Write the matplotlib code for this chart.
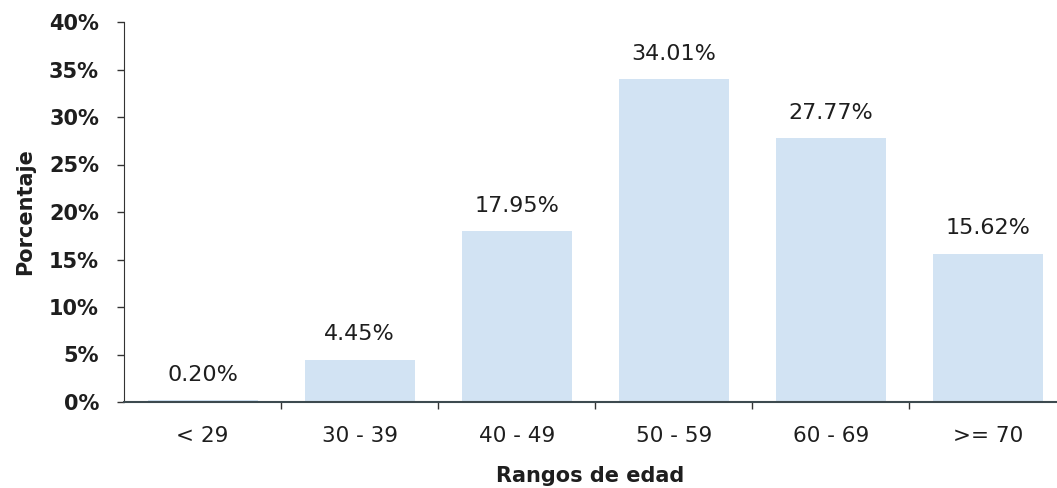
import matplotlib
matplotlib.use("Agg")
import matplotlib.pyplot as plt
from matplotlib.ticker import FixedLocator, FuncFormatter

categories = ["< 29", "30 - 39", "40 - 49", "50 - 59", "60 - 69", ">= 70"]
percentages = [0.20, 4.45, 17.95, 34.01, 27.77, 15.62]
y_ticks = [0, 5, 10, 15, 20, 25, 30, 35, 40]

plt.rcParams["font.family"] = ["DejaVu Sans"]

fig = plt.figure(figsize=(10.57, 4.88), dpi=100)
ax = fig.add_axes([124 / 1057, 1 - 402 / 488, (1057 - 124) / 1057, (402 - 22) / 488])

x = list(range(len(categories)))
ax.bar(x, percentages, width=0.7, color="#d2e3f3", edgecolor="none")

for xi, v in zip(x, percentages):
    ax.annotate(f"{v:.2f}%", (xi, v), xytext=(0, 11), textcoords="offset points",
                ha="center", va="bottom", fontsize=16, color="#1e1e1e")

ax.set_xlim(-0.5, 5.44)
ax.set_ylim(0, 40)
ax.yaxis.set_major_locator(FixedLocator(y_ticks))
ax.yaxis.set_major_formatter(FuncFormatter(lambda v, _: f"{v:.0f}%"))

# category labels centred, ticks at the category boundaries
ax.set_xticks(x)
ax.set_xticklabels(categories, fontsize=15.5, color="#1e1e1e")
ax.tick_params(axis="x", which="major", length=0, pad=17)
ax.set_xticks([i + 0.5 for i in range(len(categories) - 1)], minor=True)
ax.tick_params(axis="x", which="minor", length=5, width=1, color="#333333", direction="out")

ax.tick_params(axis="y", length=5, width=1, color="#333333", pad=13,
               labelsize=15, labelcolor="#1e1e1e")
for lbl in ax.get_yticklabels():
    lbl.set_fontweight("bold")

for side in ("top", "right"):
    ax.spines[side].set_visible(False)
ax.spines["left"].set_color("#333333")
ax.spines["bottom"].set_color("#3d4a4f")
ax.spines["bottom"].set_linewidth(1.5)

ax.set_ylabel("Porcentaje", fontsize=15, fontweight="bold", color="#1e1e1e")
ax.yaxis.set_label_coords(-0.095, 0.5)
ax.set_xlabel("Rangos de edad", fontsize=15, fontweight="bold", color="#1e1e1e")
ax.xaxis.set_label_coords(0.5, -0.168)

fig.savefig("out.png", dpi=100)
